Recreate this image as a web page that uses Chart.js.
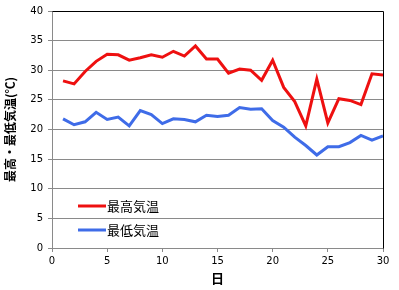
<!DOCTYPE html>
<html>
<head>
<meta charset="utf-8">
<style>
	html, body { margin: 0; padding: 0; background: #fff; }
	#wrap { width: 399px; height: 290px; }
</style>
</head>
<body>
<div id="wrap">
	<canvas id="myChart" width="399" height="290"></canvas>
</div>

<script src="https://cdn.jsdelivr.net/npm/chart.js"></script>
<script>
	// day of month
	const days = [1, 2, 3, 4, 5, 6, 7, 8, 9, 10, 11, 12, 13, 14, 15, 16, 17, 18, 19, 20, 21, 22, 23, 24, 25, 26, 27, 28, 29, 30]
	// 最高気温
	const highTemp = [28.2, 27.7, 29.8, 31.5, 32.7, 32.6, 31.7, 32.1, 32.6, 32.2, 33.2, 32.4, 34.1, 31.9, 31.9, 29.5, 30.2, 30.0, 28.3, 31.7, 27.1, 24.7, 20.6, 28.5, 21.1, 25.2, 24.9, 24.2, 29.4, 29.2]
	// 最低気温
	const lowTemp = [21.8, 20.8, 21.3, 22.9, 21.7, 22.1, 20.6, 23.2, 22.5, 21.0, 21.8, 21.7, 21.3, 22.4, 22.2, 22.4, 23.7, 23.4, 23.5, 21.5, 20.4, 18.7, 17.3, 15.7, 17.1, 17.1, 17.8, 19.0, 18.2, 18.9]
	const seriesNames = ['最高気温', '最低気温']

	const axisGrey = '#8a8a8a'
	const labelFont = { family: 'DejaVu Sans', size: 10 }
	const titleFont = { family: "'Noto Sans CJK JP'", size: 12, weight: 'bold' }

	// frame on top/right + legend drawn inside the plot
	const framePlugin = {
		id: 'frame',
		afterDraw(chart) {
			const ctx = chart.ctx
			const a = chart.chartArea
			ctx.save()
			ctx.strokeStyle = '#000'
			ctx.lineWidth = 1
			ctx.beginPath()
			ctx.moveTo(Math.round(a.left) + 0.5, Math.round(a.top) + 0.5)
			ctx.lineTo(Math.round(a.right) + 0.5, Math.round(a.top) + 0.5)
			ctx.lineTo(Math.round(a.right) + 0.5, Math.round(a.bottom) + 0.5)
			ctx.stroke()

			ctx.font = "13px 'Noto Sans CJK JP'"
			ctx.textBaseline = 'middle'
			chart.data.datasets.forEach((ds, i) => {
				const y = 206 + i * 24
				ctx.strokeStyle = ds.borderColor
				ctx.lineWidth = 3
				ctx.beginPath()
				ctx.moveTo(78, y)
				ctx.lineTo(106, y)
				ctx.stroke()
				ctx.fillStyle = '#000'
				ctx.fillText(ds.label, 107, y)
			})
			ctx.restore()
		}
	}

	const chart = new Chart(
		document.getElementById('myChart'),
		{
			type: 'line',
			data: {
				datasets: [{
					label: seriesNames[0],
					data: days.map((d, i) => ({ x: d, y: highTemp[i] })),
					borderColor: '#ee1010',
					backgroundColor: '#ee1010',
					borderWidth: 3,
					pointRadius: 0,
					tension: 0,
				}, {
					label: seriesNames[1],
					data: days.map((d, i) => ({ x: d, y: lowTemp[i] })),
					borderColor: '#3f6ce8',
					backgroundColor: '#3f6ce8',
					borderWidth: 3,
					pointRadius: 0,
					tension: 0,
				}]
			},
			options: {
				responsive: false,
				animation: false,
				layout: { padding: { left: 0, right: 16, top: 9, bottom: 0 } },
				plugins: {
					legend: { display: false },
					tooltip: { enabled: false },
				},
				scales: {
					x: {
						type: 'linear',
						min: 0,
						max: 30,
						ticks: { stepSize: 5, color: '#000', font: labelFont, padding: 3, maxRotation: 0 },
						grid: { color: 'transparent', tickColor: axisGrey, tickLength: 4, drawOnChartArea: false },
						border: { color: axisGrey },
						title: { display: true, text: '日', color: '#000', font: { family: "'Noto Sans CJK JP'", size: 13, weight: 'bold' }, padding: { top: 0, bottom: 4 } },
						afterFit(scale) { scale.height = 42 },
					},
					y: {
						min: 0,
						max: 40,
						ticks: { stepSize: 5, color: '#000', font: labelFont, padding: 5 },
						grid: { color: axisGrey, tickColor: axisGrey, tickLength: 4 },
						border: { color: axisGrey },
						title: { display: true, text: '最高・最低気温(℃)', color: '#000', font: titleFont, padding: { top: 3, bottom: 0 } },
						afterFit(scale) { scale.width = 52 },
					}
				}
			},
			plugins: [framePlugin]
		}
	)
</script>
</body>
</html>
